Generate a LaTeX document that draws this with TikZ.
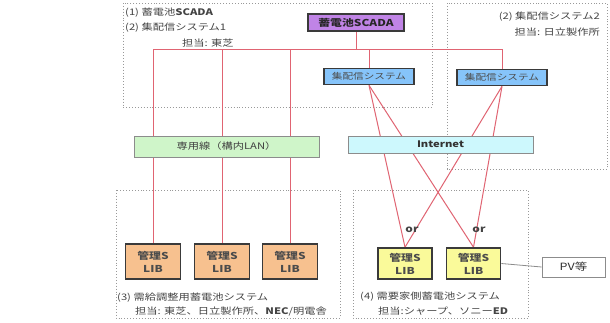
\documentclass[tikz,border=0pt]{standalone}
\usepackage{fontspec}
\setmainfont{Noto Sans CJK JP}[FakeStretch=1.25]
\usetikzlibrary{backgrounds}
\definecolor{linkred}{HTML}{E06472}
\definecolor{txtgray}{HTML}{444444}
\definecolor{scadafill}{HTML}{C084E6}
\definecolor{hubfill}{HTML}{86C4FA}
\definecolor{lanfill}{HTML}{CFF5C9}
\definecolor{inetfill}{HTML}{CDF8FD}
\definecolor{libo}{HTML}{F7C18F}
\definecolor{liby}{HTML}{FAFA9A}
\definecolor{darkbd}{HTML}{3A3A3A}
\tikzset{
  link/.style={draw=linkred, line width=1pt},
  grp/.style={draw=gray!80, dotted, line width=0.9pt},
  lbl/.style={text=txtgray, font=\fontsize{9}{11}\selectfont, inner sep=0pt},
  boxbase/.style={inner sep=1pt, align=center, font=\fontsize{9}{11}\selectfont},
  scadabox/.style={boxbase, fill=scadafill, draw=darkbd, line width=1.8pt, minimum width=96pt, minimum height=17pt, font=\fontsize{9.5}{12}\selectfont\bfseries, text=black!85},
  hubbox/.style={boxbase, fill=hubfill, draw=darkbd, line width=1.6pt, minimum width=90pt, minimum height=16pt, text=black!70, font=\fontsize{8.5}{11}\selectfont},
  lanbox/.style={boxbase, fill=lanfill, draw=gray!90, line width=0.8pt, minimum width=185pt, minimum height=21pt, text=black!75},
  inetbox/.style={boxbase, fill=inetfill, draw=gray!90, line width=0.8pt, minimum width=185pt, minimum height=17pt, text=black!80, font=\fontsize{9}{11}\selectfont\bfseries},
  libobox/.style={boxbase, fill=libo, draw=darkbd, line width=1.6pt, minimum width=55pt, minimum height=35pt, text=black!70, font=\fontsize{9.5}{13}\selectfont\bfseries},
  libybox/.style={boxbase, fill=liby, draw=darkbd, line width=1.6pt, minimum width=54pt, minimum height=31pt, text=black!70, font=\fontsize{9.5}{13}\selectfont\bfseries},
  pvbox/.style={boxbase, fill=white, draw=gray!90, line width=0.8pt, minimum width=63pt, minimum height=20pt, text=black!80, font=\fontsize{10}{12}\selectfont}
}
\begin{document}
\begin{tikzpicture}[x=1pt, y=-1pt]
\useasboundingbox (0,0) rectangle (610,322);

% nodes
\node[scadabox] (scada) at (356,22.5) {蓄電池SCADA};
\node[hubbox] (hub1) at (369,76.5) {集配信システム};
\node[hubbox] (hub2) at (502,77.5) {集配信システム};
\node[lanbox] (lan) at (226.5,146.5) {専用線（構内LAN）};
\node[inetbox] (inet) at (440.5,144.5) {Internet};
\node[libobox] (o1) at (153,261.5) {管理S\\LIB};
\node[libobox] (o2) at (222,261.5) {管理S\\LIB};
\node[libobox] (o3) at (290,261.5) {管理S\\LIB};
\node[libybox] (y1) at (405,263.5) {管理S\\LIB};
\node[libybox] (y2) at (473.5,263.5) {管理S\\LIB};
\node[pvbox] (pv) at (573.5,267) {PV等};

\coordinate (bL) at (153,49);
\coordinate (bR) at (502,49);

% group frames and links behind the boxes
\begin{pgfonlayer}{background}
\fill[white] (0,0) rectangle (610,322);
\draw[grp] (123,3) rectangle (432,107);
\draw[grp] (447,3) rectangle (607,169);
\draw[grp] (116,190) rectangle (340,318);
\draw[grp] (353,190) rectangle (528,318);
\draw[link] (bL) -- (bR);
\draw[link] (scada.south) -- (scada.south |- bL);
\draw[link] (bL) -- (o1.north);
\draw[link] (o2.north |- bL) -- (o2.north);
\draw[link] (o3.north |- bL) -- (o3.north);
\draw[link] (hub1.north |- bL) -- (hub1.north);
\draw[link] (bR) -- (hub2.north);
\draw[link] (hub1.south) -- (y1.north);
\draw[link] (hub1.south) -- (y2.north);
\draw[link] (hub2.south) -- (y1.north);
\draw[link] (hub2.south) -- (y2.north);
\draw[draw=gray!90, line width=0.8pt] (y2.east) -- (pv.west);
\end{pgfonlayer}

% labels
\node[lbl, anchor=west] (t1a) at (125,13) {(1) 蓄電池\textbf{SCADA}};
\node[lbl, anchor=west] (t1b) at (125,28) {(2) 集配信システム1};
\node[lbl, anchor=west] (t1c) at (182,43) {担当: 東芝};
\node[lbl, anchor=east] (t2a) at (600,17) {(2) 集配信システム2};
\node[lbl, anchor=east] (t2b) at (600,32) {担当: 日立製作所};
\node[lbl, anchor=west] (t3a) at (117,298) {(3) 需給調整用蓄電池システム};
\node[lbl, anchor=west] (t3b) at (135,312) {担当: 東芝、日立製作所、\textbf{NEC}/明電舎};
\node[lbl, anchor=west] (t4a) at (360,297) {(4) 需要家側蓄電池システム};
\node[lbl, anchor=west] (t4b) at (378,311) {担当:シャープ、ソニー\textbf{ED}};
\node[lbl, font=\fontsize{9.5}{11}\selectfont\bfseries] (or1) at (412,230) {or};
\node[lbl, font=\fontsize{9.5}{11}\selectfont\bfseries] (or2) at (479,230) {or};
\end{tikzpicture}
\end{document}
